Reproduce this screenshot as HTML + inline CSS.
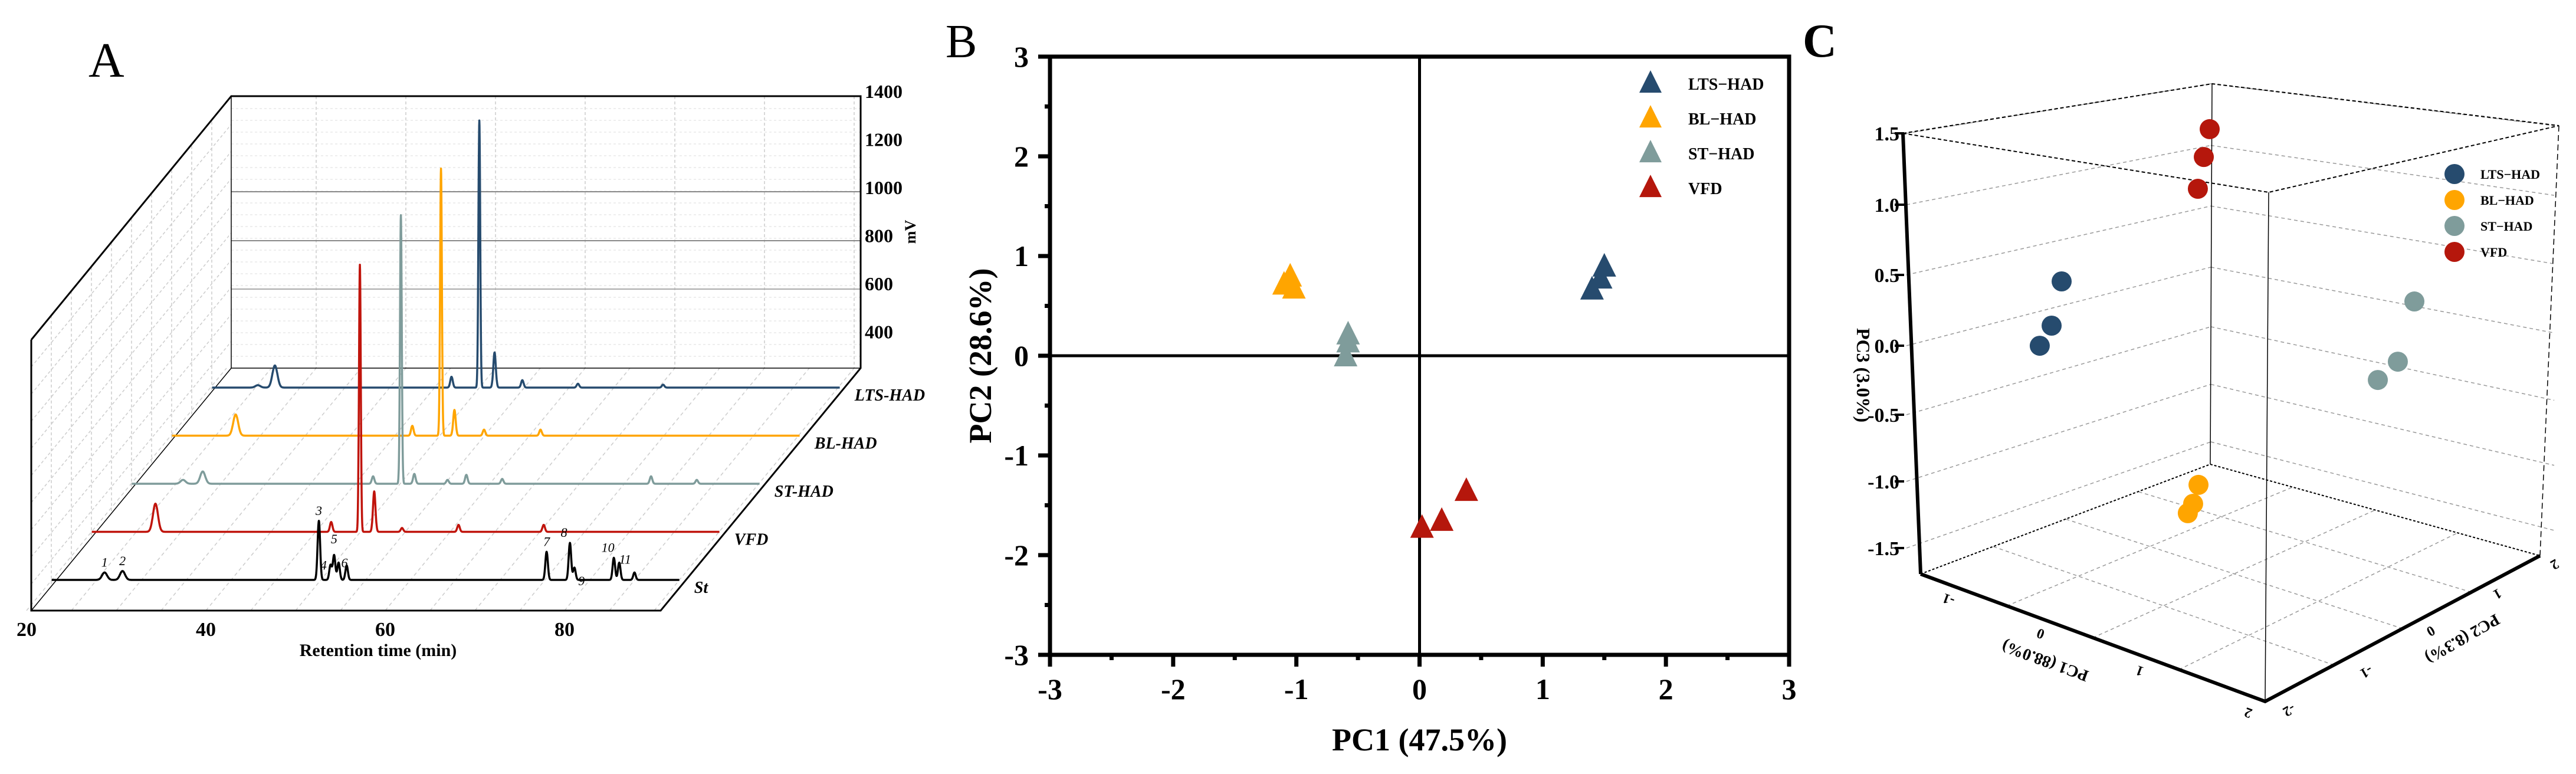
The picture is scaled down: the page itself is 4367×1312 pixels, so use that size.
<!DOCTYPE html>
<html><head><meta charset="utf-8">
<style>
html,body{margin:0;padding:0;background:#fff;}
svg{display:block;font-family:"Liberation Serif",serif;}
</style></head>
<body>
<svg id="fig" width="4367" height="1312" viewBox="0 0 4367 1312" xmlns="http://www.w3.org/2000/svg">
<rect width="4367" height="1312" fill="#fff"/>
<g id="pa"></g>
<g id="pb"></g>
<g id="pc"></g>
</svg>
<script>
// ---------- Panel A data ----------
const rowNames = ["St","VFD","ST-HAD","BL-HAD","LTS-HAD"];
const rowColors = ["#000000","#c0140c","#7f9c9b","#ffa500","#264b6e"];
const stTimes = [26.4,28.4,50.3,51.6,52.0,52.5,53.4,75.7,78.3,78.8,83.2,83.8,85.5];
const stHeights = [31,37,246,62,103,72,60,117,154,51,92,72,31];
const vfdTimes = [27.6,47.2,50.4,52.0,55.1,61.4,70.9];
const vfdHeights = [117,41,1111,168,16,29,29];
const stHadTimes = [26.2,28.4,47.4,50.5,52.0,55.7,57.8,61.8,78.4,83.5];
const stHadHeights = [16,51,31,1117,41,16,37,20,31,16];
const blTimes = [27.6,47.3,50.5,52.0,55.3,61.6];
const blHeights = [88,41,1111,107,25,25];
const ltsTimes = [25.6,27.5,47.2,50.3,52.0,55.1,61.3,70.8];
const ltsHeights = [10,92,45,1111,146,31,16,12];
const mvTicks = [1400,1200,1000,800,600,400];
const timeTicks = [20,40,60,80];
const peakLabels = ["1","2","3","4","5","6","7","8","9","10","11"];

// ---------- Panel B data ----------
const groups = ["LTS-HAD","BL-HAD","ST-HAD","VFD"];
const groupColors = ["#264b6e","#ffa500","#7f9c9b","#b5170c"];
const pc1Scores = [[1.50,1.47,1.40],[-1.05,-1.10,-1.02],[-0.58,-0.58,-0.60],[0.38,0.18,0.02]];
const pc2Scores = [[0.90,0.78,0.67],[0.80,0.72,0.68],[0.22,0.14,0.00],[-1.35,-1.65,-1.72]];
const bTicks = [-3,-2,-1,0,1,2,3];

// ---------- Panel C data ----------
const c3pc1 = [[-0.028,-0.162,-0.295],[0.808,0.740,0.680],[1.670,1.459,1.247],[-0.214,-0.294,-0.378]];
const c3pc2 = [[-1.5,-1.5,-1.5],[-1.0,-1.0,-1.0],[1.0,1.0,1.0],[1.0,1.0,1.0]];
const c3pc3 = [[0.653,0.295,0.112],[-0.719,-0.875,-0.960],[0.323,-0.172,-0.364],[1.044,0.820,0.566]];
const zTicks = ["1.5","1.0","0.5","0.0","-0.5","-1.0","-1.5"];
const cPc1Ticks = ["-1","0","1","2"];
const cPc2Ticks = ["-2","-1","0","1","2"];

const NS="http://www.w3.org/2000/svg";
function mk(parent,tag,attrs,text){const e=document.createElementNS(NS,tag);for(const k in attrs)e.setAttribute(k,attrs[k]);if(text!==undefined)e.textContent=text;parent.appendChild(e);return e;}

// ================= PANEL A =================
(function(){
const g=document.getElementById('pa');
const tA=mk(g,'text',{x:150,y:130,'font-size':84},'A');


const grid=mk(g,'g',{});


// left wall grid lines
for(let i=1;i<10;i++){
  const y=576+i*46;
  mk(grid,'line',{x1:53,y1:y,x2:392,y2:y-411,stroke:'#ccc','stroke-width':1.5,'stroke-dasharray':'5,4'});
}
for(let i=1;i<10;i++){
  const x=53+i*34,y=1035-i*41.1;
  mk(grid,'line',{x1:x,y1:y-459,x2:x,y2:y,stroke:'#ccc','stroke-width':1.5,'stroke-dasharray':'5,4'});
}
// floor lines
for(let t=20;t<=90;t+=5){
  const x=45+(t-20)*15.2;
  mk(grid,'line',{x1:x,y1:1035,x2:x+339,y2:624,stroke:'#ccc','stroke-width':1.5,'stroke-dasharray':'6,5'});
}
// back plane grid
for(let t=30;t<=90;t+=10){
  const x=384+(t-20)*15.2;
  mk(grid,'line',{x1:x,y1:163,x2:x,y2:624,stroke:'#ccc','stroke-width':1.5,'stroke-dasharray':'5,4'});
}
for(let i=0;i<22;i++){
  const y=184+i*20;
  mk(grid,'line',{x1:392,y1:y,x2:1459,y2:y,stroke:'#ddd','stroke-width':1,'stroke-dasharray':'4,4'});
}
[325,408].forEach(y=>mk(grid,'line',{x1:392,y1:y,x2:1459,y2:y,stroke:'#888','stroke-width':2}));
mk(grid,'line',{x1:392,y1:490,x2:1459,y2:490,stroke:'#aaa','stroke-width':2});
// frame
const fr=mk(g,'g',{stroke:'#000','stroke-width':3,fill:'none'});


mk(fr,'polyline',{points:'53,576 53,1035 1120,1035 1459,624 1459,163 392,163 53,576'});
mk(fr,'line',{x1:392,y1:163,x2:392,y2:624,'stroke-width':1.5});
mk(fr,'line',{x1:392,y1:624,x2:1459,y2:624,'stroke-width':1.5});
mk(fr,'line',{x1:53,y1:1035,x2:392,y2:624,'stroke-width':1.5});
// mV ticks
const mvY=v=>155+(1400-v)*0.4075;
mvTicks.forEach(v=>{
  const t=mk(g,'text',{x:1466,y:mvY(v)+11,'font-size':32,'font-weight':'bold'},String(v));
  
  
});
const mv=mk(g,'text',{x:0,y:0,'font-size':26,'font-weight':'bold',transform:'translate(1552,393) rotate(-90)','text-anchor':'middle'},'mV');


timeTicks.forEach(v=>{
  const t=mk(g,'text',{x:45+(v-20)*15.2,y:1078,'font-size':34,'font-weight':'bold','text-anchor':'middle'},String(v));
  
  
});
const xt=mk(g,'text',{x:641,y:1112,'font-size':30,'font-weight':'bold','text-anchor':'middle'},'Retention time (min)');


// traces
const sets=[[stTimes,stHeights],[vfdTimes,vfdHeights],[stHadTimes,stHadHeights],[blTimes,blHeights],[ltsTimes,ltsHeights]];
const hScale=0.4075;
for(let k=4;k>=0;k--){
  const [ts,hs]=sets[k];
  const x0=80+68*k, base=983-81.5*k;
  let d='';
  for(let t=20.5;t<=90.5;t+=0.02){
    let v=0;
    for(let i=0;i<ts.length;i++){
      const s=hs[i]>500?0.1:(ts[i]<30?0.28:0.14);
      v+=hs[i]*Math.exp(-Math.pow(t-ts[i],2)/(2*s*s));
    }
    d+=(d?'L':'M')+(x0+(t-20)*15.2).toFixed(1)+','+(base-v*hScale).toFixed(1);
  }
  const p=mk(g,'path',{d:d,fill:'none',stroke:rowColors[k],'stroke-width':3.5,'stroke-linejoin':'round'});
  
  
  const lx=x0+(91.5-20)*15.2+10;
  const lab=mk(g,'text',{x:lx,y:base+22,'font-size':28,'font-weight':'bold','font-style':'italic'},rowNames[k]);
  
  
}
// peak number labels on St
const labIdx=[0,1,2,3,4,5,7,8,9,10,11];
const dxs=[0,0,0,-12,0,10,0,-10,12,-10,10];
const dys=[0,0,0,18,-10,18,0,0,40,0,12];
labIdx.forEach((pi,j)=>{
  const x=80+(stTimes[pi]-20)*15.2+dxs[j];
  const y=983-stHeights[pi]*hScale-10+dys[j];
  const t=mk(g,'text',{x:x,y:y,'font-size':22,'font-style':'italic','text-anchor':'middle'},peakLabels[j]);
  
  
});
})();

// ================= PANEL B =================
(function(){
const g=document.getElementById('pb');
const L=1780,R=3033,T=96,B=1110;
const sx=v=>L+(v+3)*(R-L)/6, sy=v=>B-(v+3)*(B-T)/6;
const tB=mk(g,'text',{x:1603,y:97,'font-size':80},'B');


const ax=mk(g,'g',{stroke:'#000','stroke-width':7,fill:'none'});


mk(ax,'rect',{x:L,y:T,width:R-L,height:B-T});
mk(ax,'line',{x1:sx(0),y1:T,x2:sx(0),y2:B,'stroke-width':5});
mk(ax,'line',{x1:L,y1:sy(0),x2:R,y2:sy(0),'stroke-width':5});
bTicks.forEach(v=>{
  mk(ax,'line',{x1:sx(v),y1:B,x2:sx(v),y2:B+20});
  mk(ax,'line',{x1:L,y1:sy(v),x2:L-20,y2:sy(v)});
  if(v<3){mk(ax,'line',{x1:sx(v+0.5),y1:B,x2:sx(v+0.5),y2:B+9});mk(ax,'line',{x1:L,y1:sy(v+0.5),x2:L-9,y2:sy(v+0.5)});}
  const tx=mk(g,'text',{x:sx(v),y:1185,'font-size':50,'font-weight':'bold','text-anchor':'middle'},String(v));
  
  
  const ty=mk(g,'text',{x:1744,y:sy(v)+17,'font-size':50,'font-weight':'bold','text-anchor':'end'},String(v));
  
  
});
const xt=mk(g,'text',{x:sx(0),y:1272,'font-size':54,'font-weight':'bold','text-anchor':'middle'},'PC1 (47.5%)');


const yt=mk(g,'text',{x:0,y:0,'font-size':54,'font-weight':'bold','text-anchor':'middle',transform:'translate(1680,'+sy(0)+') rotate(-90)'},'PC2 (28.6%)');


const tri=(cx,cy,s)=>`${cx},${cy-s*0.55} ${cx-s/2},${cy+s*0.45} ${cx+s/2},${cy+s*0.45}`;
groups.forEach((gn,gi)=>{
  pc1Scores[gi].forEach((v,j)=>{
    const p=mk(g,'polygon',{points:tri(sx(v),sy(pc2Scores[gi][j]),40),fill:groupColors[gi]});
    
    
  });
  const ly=140+gi*59;
  const lm=mk(g,'polygon',{points:tri(2798,ly,38),fill:groupColors[gi]});
  
  
  const lt=mk(g,'text',{x:2862,y:ly+12,'font-size':28,'font-weight':'bold'},gn.replace('-','\u2212'));
  
  
});
})();

// ================= PANEL C =================
(function(){
const g=document.getElementById('pc');
const O=[3687,539],u=[177,65.5],v=[116.5,-61.75],w=[-18.8,-234];
const P=(a,b,c)=>[O[0]+a*u[0]+b*v[0]+c*w[0],O[1]+a*u[1]+b*v[1]+c*w[1]];
const tC=mk(g,'text',{x:3056,y:96,'font-size':80,'font-weight':'bold'},'C');


const gr=mk(g,'g',{stroke:'#999','stroke-width':1.5,fill:'none','stroke-dasharray':'6,5'});


const zy=[226,347,466,586,703,816,929];
zy.forEach((y,i)=>{
  const by=142+(y-226)*(787-142)/(973-226);
  const ry=213+(y-226)*(942-213)/(973-226);
  mk(gr,'line',{x1:3232,y1:y,x2:3748,y2:by});
  mk(gr,'line',{x1:3748,y1:by,x2:4330,y2:ry});
});
// floor grid
for(let i=1;i<4;i++){
  mk(gr,'line',{x1:3256+i*146,y1:973+i*54,x2:3747+i*(4306-3747)/4,y2:787+i*(942-787)/4});
  mk(gr,'line',{x1:3840+i*116.5,y1:1189-i*61.75,x2:3256+i*123,y2:973-i*46.5});
}
const fr=mk(g,'g',{stroke:'#000','stroke-width':2,fill:'none'});


mk(fr,'polyline',{points:'3226,226 3750,142 4338,213 3846,326 3226,226','stroke-dasharray':'6,4'});
mk(fr,'line',{x1:3750,y1:142,x2:3747,y2:787,'stroke-width':1.5});
mk(fr,'line',{x1:3846,y1:326,x2:3840,y2:1189,'stroke-width':1.5});
mk(fr,'line',{x1:4338,y1:213,x2:4306,y2:942,'stroke-width':1.5,'stroke-dasharray':'10,6'});
mk(fr,'polyline',{points:'3256,973 3747,787 4306,942','stroke-dasharray':'4,3'});
mk(fr,'line',{x1:3226,y1:226,x2:3256,y2:973,'stroke-width':6});
mk(fr,'polyline',{points:'3256,973 3840,1189 4306,942','stroke-width':6});
zTicks.forEach((t,i)=>{
  mk(fr,'line',{x1:3228,y1:zy[i],x2:3212,y2:zy[i],'stroke-width':4});
  const e=mk(g,'text',{x:3220,y:zy[i]+12,'font-size':34,'font-weight':'bold','text-anchor':'end'},t);
  
  
});
const p1=[[3306,1009],[3462,1067],[3630,1130],[3814,1201]];
cPc1Ticks.forEach((t,i)=>{
  const e=mk(g,'text',{x:p1[i][0],y:p1[i][1],'font-size':24,'font-weight':'bold','text-anchor':'middle',transform:`rotate(200 ${p1[i][0]} ${p1[i][1]})`},t);
  
  
});
const p2=[[3877,1197],[4008,1132],[4117,1063],[4230,1000],[4327,950]];
cPc2Ticks.forEach((t,i)=>{
  const e=mk(g,'text',{x:p2[i][0],y:p2[i][1],'font-size':24,'font-weight':'bold','text-anchor':'middle',transform:`rotate(150 ${p2[i][0]} ${p2[i][1]})`},t);
  
  
});
const a1=mk(g,'text',{x:0,y:0,'font-size':28,'font-weight':'bold','text-anchor':'middle',transform:'translate(3470,1112) rotate(200)'},'PC1 (88.0%)');


const a2=mk(g,'text',{x:0,y:0,'font-size':28,'font-weight':'bold','text-anchor':'middle',transform:'translate(4170,1075) rotate(150)'},'PC2 (8.3%)');


const a3=mk(g,'text',{x:0,y:0,'font-size':32,'font-weight':'bold','text-anchor':'middle',transform:'translate(3148,636) rotate(90)'},'PC3 (3.0%)');


groups.forEach((gn,gi)=>{
  c3pc1[gi].forEach((a,j)=>{
    const q=P(a,c3pc2[gi][j],c3pc3[gi][j]);
    const c=mk(g,'circle',{cx:q[0],cy:q[1],r:17,fill:groupColors[gi]});
    
    
  });
  const ly=295+gi*44;
  const lm=mk(g,'circle',{cx:4161,cy:ly,r:17,fill:groupColors[gi]});
  
  
  const lt=mk(g,'text',{x:4205,y:ly+8,'font-size':22,'font-weight':'bold'},gn.replace('-','\u2212'));
  
  
});
})();
</script>
</body></html>
